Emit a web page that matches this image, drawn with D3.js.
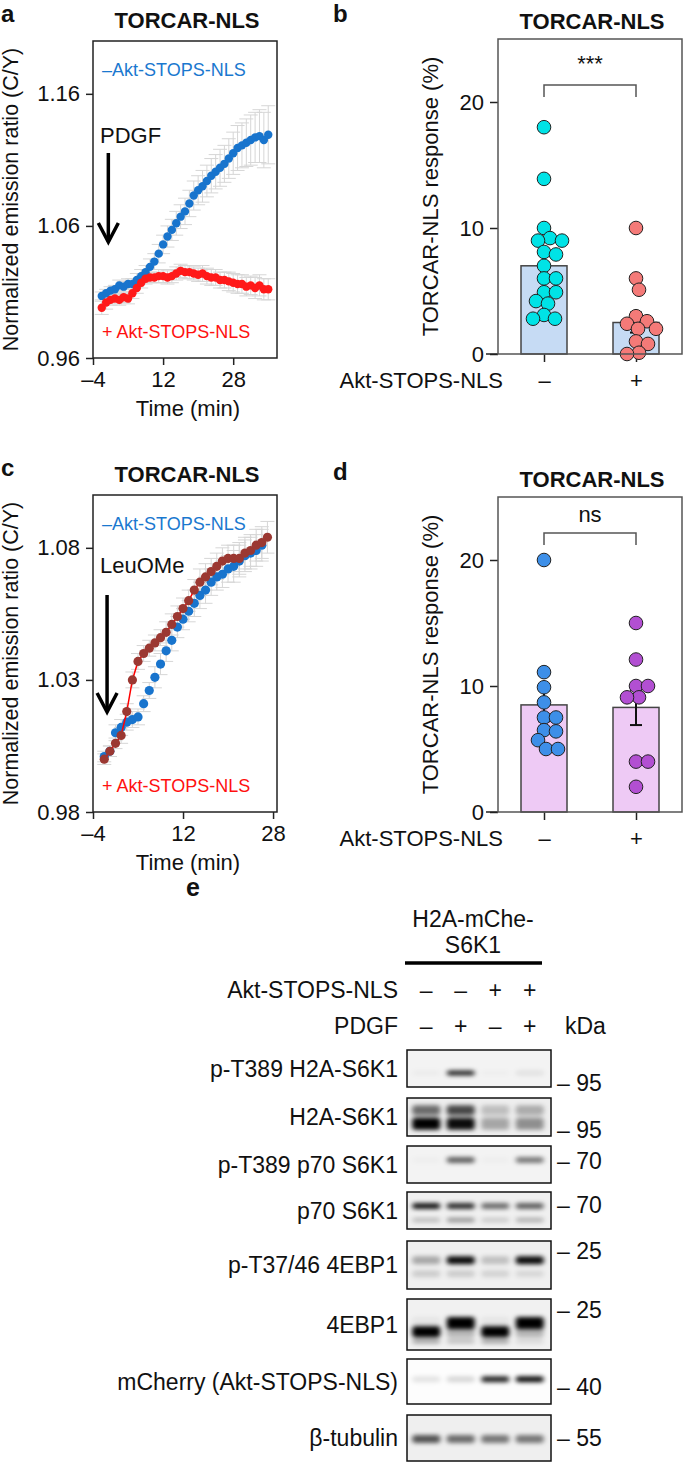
<!DOCTYPE html>
<html>
<head>
<meta charset="utf-8">
<script src="https://cdn.jsdelivr.net/npm/d3@7"></script>
<style>
  body { margin: 0; background: #fff; }
  text { font-family: "Liberation Sans", Arial, Helvetica, sans-serif; fill: #111; }
</style>
</head>
<body>
<div id="fig"></div>
<script>
// ---------------- data ----------------
// panel a: PDGF time course (min, normalized C/Y ratio, SEM)
const timeA = [-2,-1,0,1,2,3,4,5,6,7,8,9,10,11,12,13,14,15,16,17,18,19,20,21,22,23,24,25,26,27,28,29,30,31,32,33,34,35,36];
const blueA = [1.007,1.009,1.011,1.012,1.015,1.014,1.016,1.016,1.019,1.022,1.025,1.029,1.033,1.039,1.046,1.052,1.057,1.062,1.067,1.071,1.077,1.083,1.087,1.090,1.094,1.098,1.101,1.104,1.107,1.111,1.115,1.119,1.121,1.123,1.125,1.127,1.128,1.125,1.129];
const blueAErr = [0.003,0.003,0.003,0.003,0.004,0.004,0.004,0.004,0.005,0.005,
                  0.005,0.006,0.006,0.007,0.007,0.008,0.008,0.009,0.009,0.010,
                  0.010,0.011,0.011,0.012,0.012,0.013,0.013,0.014,0.014,0.015,
                  0.016,0.017,0.017,0.018,0.019,0.019,0.020,0.021,0.022];
const redA = [0.998,1.002,1.004,1.005,1.004,1.006,1.005,1.009,1.013,1.017,1.020,1.021,1.021,1.022,1.022,1.021,1.022,1.024,1.026,1.025,1.025,1.024,1.023,1.024,1.022,1.021,1.021,1.019,1.019,1.018,1.017,1.016,1.016,1.014,1.015,1.013,1.015,1.012,1.012];
const redAErr = [0.005,0.005,0.004,0.004,0.004,0.004,0.004,0.004,0.004,0.004,
                 0.004,0.004,0.004,0.005,0.005,0.005,0.005,0.005,0.005,0.005,
                 0.005,0.005,0.005,0.006,0.006,0.006,0.006,0.006,0.006,0.007,
                 0.007,0.007,0.007,0.007,0.007,0.008,0.008,0.008,0.008];

// panel c: LeuOMe time course
const timeC = [-2,-1,0,1,2,3,4,5,6,7,8,9,10,11,12,13,14,15,16,17,18,19,20,21,22,23,24,25,26,27];
const blueC = [1.001,1.003,1.010,1.012,1.014,1.015,1.016,1.021,1.026,1.031,1.036,1.041,1.045,1.050,1.053,1.056,1.059,1.062,1.064,1.067,1.069,1.070,1.072,1.073,1.075,1.077,1.078,1.079,1.081];
const blueCErr = [0.002,0.002,0.003,0.003,0.003,0.003,0.003,0.003,0.003,0.004,
                  0.004,0.004,0.004,0.004,0.004,0.004,0.005,0.005,0.005,0.005,
                  0.005,0.005,0.005,0.006,0.006,0.006,0.006,0.006,0.006];
const brownC = [1.000,1.003,1.006,1.009,1.018,1.030,1.037,1.040,1.042,1.044,1.046,1.048,1.051,1.054,1.057,1.060,1.064,1.067,1.069,1.071,1.073,1.075,1.076,1.076,1.076,1.078,1.079,1.081,1.082,1.084];
const brownCErr = [0.002,0.002,0.002,0.003,0.003,0.003,0.003,0.003,0.003,0.003,
                   0.003,0.004,0.004,0.004,0.004,0.004,0.004,0.005,0.005,0.005,
                   0.005,0.005,0.005,0.005,0.006,0.006,0.006,0.006,0.006,0.006];

// panels b, d: response (%) per cell
const groups = ['–', '+'];
const barsB = [7.0, 2.5];
const barsBErr = [0.9, 0.8];
const cellsBminus = [18.0, 13.9, 10.0, 9.2, 9.0, 9.0, 8.1, 7.9, 7.0, 6.0, 6.0, 4.9, 4.9, 4.2, 4.0, 3.1, 2.8, 2.8];
const cellsBplus = [10.0, 6.0, 5.1, 3.0, 2.6, 2.4, 2.0, 2.0, 1.0, 0.8, 0.1, 0.0];
const barsD = [8.5, 8.3];
const barsDErr = [1.3, 1.4];
const cellsDminus = [20.0, 11.1, 9.9, 8.7, 7.5, 7.5, 6.5, 6.4, 5.7, 5.0, 5.0];
const cellsDplus = [15.0, 12.1, 10.0, 10.0, 9.1, 9.1, 4.0, 4.0, 2.0];

// panel e: western blot
const laneAkt = ['–', '–', '+', '+'];
const lanePdgf = ['–', '+', '–', '+'];
const blotLabels = ['p-T389 H2A-S6K1', 'H2A-S6K1', 'p-T389 p70 S6K1', 'p70 S6K1',
                    'p-T37/46 4EBP1', '4EBP1', 'mCherry (Akt-STOPS-NLS)', 'β-tubulin'];
const blotMarkers = ['95', '95', '70', '70', '25', '25', '40', '55'];
// band intensity per lane (0 none .. 1 saturated), pos = relative migration in strip
const blotBands = [
  [{pos: 0.62, v: [0.03, 0.85, 0.02, 0.08]}],
  [{pos: 0.32, v: [0.55, 0.7, 0.2, 0.28]}, {pos: 0.68, v: [1, 0.95, 0.3, 0.4]}],
  [{pos: 0.38, v: [0.02, 0.6, 0.02, 0.5]}],
  [{pos: 0.38, v: [0.9, 0.8, 0.55, 0.6]}, {pos: 0.76, v: [0.2, 0.35, 0.15, 0.25]}],
  [{pos: 0.4, v: [0.3, 0.95, 0.2, 0.95]}, {pos: 0.68, v: [0.15, 0.15, 0.12, 0.1]}],
  [{pos: 0.47, v: [0.05, 1, 0.05, 1]}, {pos: 0.64, v: [1, 0.25, 1, 0.25]}, {pos: 0.83, v: [0.3, 0.2, 0.3, 0.1]}],
  [{pos: 0.45, v: [0.1, 0.15, 0.85, 0.95]}],
  [{pos: 0.52, v: [0.65, 0.55, 0.5, 0.5]}]
];

// ---------------- drawing ----------------
const svg = d3.select('#fig').append('svg')
  .attr('width', 685)
  .attr('height', 1462);

const dash = d => d < 0 ? '–' + Math.abs(d) : String(d);

function styleAxis(g) {
  g.attr('font-family', null).attr('font-size', null);
  g.selectAll('text').style('font-size', '22px').attr('fill', '#111');
  g.selectAll('line').attr('stroke', '#222').attr('stroke-width', 1.5);
  g.select('.domain').remove();
}

function timePanel(o) {
  const x = d3.scaleLinear().domain(o.xDomain).range([93, 277]);
  const y = d3.scaleLinear().domain(o.yDomain).range([o.bottom, o.top]);

  svg.append('text').attr('x', 1).attr('y', o.top - 19)
    .style('font-size', '24px').style('font-weight', 'bold').text(o.letter);
  svg.append('text').attr('x', 187).attr('y', o.top - 13).attr('text-anchor', 'middle')
    .style('font-size', '22px').style('font-weight', 'bold').text('TORCAR-NLS');

  svg.append('g').attr('transform', 'translate(93,0)')
    .call(d3.axisLeft(y).tickValues(o.yTicks).tickFormat(d3.format('.2f')).tickSize(7).tickPadding(6).tickSizeOuter(0))
    .call(styleAxis);
  svg.append('g').attr('transform', 'translate(0,' + o.bottom + ')')
    .call(d3.axisBottom(x).tickValues(o.xTicks).tickFormat(dash).tickSize(7).tickPadding(6).tickSizeOuter(0))
    .call(styleAxis);

  svg.append('text')
    .attr('transform', 'translate(18,' + (o.top + o.bottom) / 2 + ') rotate(-90)')
    .attr('text-anchor', 'middle').style('font-size', '21.5px')
    .text('Normalized emission ratio (C/Y)');
  svg.append('text').attr('x', 188).attr('y', o.bottom + 58).attr('text-anchor', 'middle')
    .style('font-size', '22px').text('Time (min)');

  // error bars first
  o.series.forEach(s => {
    const g = svg.append('g').attr('stroke', '#d6d6d6').attr('stroke-width', 1);
    s.values.forEach((v, i) => {
      const cx = x(s.time[i]), e = s.err[i];
      g.append('line').attr('x1', cx).attr('x2', cx).attr('y1', y(v - e)).attr('y2', y(v + e));
      g.append('line').attr('x1', cx - 7).attr('x2', cx + 7).attr('y1', y(v - e)).attr('y2', y(v - e));
      g.append('line').attr('x1', cx - 7).attr('x2', cx + 7).attr('y1', y(v + e)).attr('y2', y(v + e));
    });
  });
  o.series.forEach(s => {
    const pts = s.values.map((v, i) => [x(s.time[i]), y(v)]);
    if (s.line) {
      svg.append('path').attr('d', d3.line()(pts)).attr('fill', 'none')
        .attr('stroke', s.line).attr('stroke-width', 1.5);
    }
    svg.append('g').selectAll('circle').data(pts).enter().append('circle')
      .attr('cx', d => d[0]).attr('cy', d => d[1]).attr('r', o.r).attr('fill', s.color);
  });

  svg.append('rect').attr('x', 93).attr('y', o.top).attr('width', 184).attr('height', o.bottom - o.top)
    .attr('fill', 'none').attr('stroke', '#222').attr('stroke-width', 1.5);

  svg.append('text').attr('x', 102).attr('y', o.top + 35).style('font-size', '18px')
    .style('fill', '#1a78cf').text('–Akt-STOPS-NLS');
  svg.append('text').attr('x', 102).attr('y', o.bottom - 20).style('font-size', '18px')
    .style('fill', '#ff1010').text('+ Akt-STOPS-NLS');
  svg.append('text').attr('x', 100).attr('y', o.labelY).style('font-size', '22px').text(o.stim);

  // stimulus arrow
  const ax = x(o.arrowT);
  const ga = svg.append('g').attr('stroke', '#000').attr('stroke-width', 3.5).attr('fill', 'none');
  ga.append('line').attr('x1', ax).attr('x2', ax).attr('y1', o.arrow[0]).attr('y2', o.arrow[1]);
  ga.append('path').attr('d', d3.line()([[ax - 10, o.arrow[1] - 19], [ax, o.arrow[1]], [ax + 10, o.arrow[1] - 19]]));
}

timePanel({
  letter: 'a', top: 41, bottom: 358, xDomain: [-4, 38], yDomain: [0.96, 1.2],
  yTicks: [0.96, 1.06, 1.16], xTicks: [-4, 12, 28], r: 4.2,
  stim: 'PDGF', labelY: 143, arrowT: -0.5, arrow: [153, 242],
  series: [
    {time: timeA, values: blueA, err: blueAErr, color: '#1874cd'},
    {time: timeA, values: redA, err: redAErr, color: '#ff1a1a'}
  ]
});

timePanel({
  letter: 'c', top: 495, bottom: 812, xDomain: [-4, 28.7], yDomain: [0.98, 1.1],
  yTicks: [0.98, 1.03, 1.08], xTicks: [-4, 12, 28], r: 4.6,
  stim: 'LeuOMe', labelY: 573, arrowT: -1.5, arrow: [595, 712],
  series: [
    {time: timeC, values: blueC, err: blueCErr, color: '#1874cd'},
    {time: timeC, values: brownC, err: brownCErr, color: '#9b3832', line: '#ff0000'}
  ]
});

// simple beeswarm: nudge each dot sideways until it clears those already placed
function swarm(vals, y, r) {
  const placed = [];
  const minD = 2 * r * 0.85;
  return vals.map(v => {
    const cy = y(v);
    let dx = 0;
    for (let k = 0; k < 60; k++) {
      const cand = (k % 2 ? 1 : -1) * Math.ceil(k / 2);
      if (placed.every(p => Math.hypot(p[0] - cand, p[1] - cy) >= minD)) { dx = cand; break; }
    }
    placed.push([dx, cy]);
    return [dx, cy];
  });
}

function barPanel(o) {
  const x = d3.scalePoint().domain(groups).range([498, 682]).padding(0.5);
  const y = d3.scaleLinear().domain([0, 25]).range([o.bottom, o.top]);
  const bw = 46, r = 6.8;

  svg.append('text').attr('x', 333).attr('y', o.top - 17)
    .style('font-size', '24px').style('font-weight', 'bold').text(o.letter);
  svg.append('text').attr('x', 592).attr('y', o.top - 10).attr('text-anchor', 'middle')
    .style('font-size', '22px').style('font-weight', 'bold').text('TORCAR-NLS');

  svg.append('g').attr('transform', 'translate(498,0)')
    .call(d3.axisLeft(y).tickValues([0, 10, 20]).tickSize(8).tickPadding(6).tickSizeOuter(0))
    .call(styleAxis);
  svg.append('g').attr('transform', 'translate(0,' + o.bottom + ')')
    .call(d3.axisBottom(x).tickSize(8).tickPadding(10).tickSizeOuter(0))
    .call(styleAxis);
  svg.append('line').attr('x1', 486).attr('x2', 498).attr('y1', o.bottom).attr('y2', o.bottom)
    .attr('stroke', '#222').attr('stroke-width', 1.5);

  svg.append('text').attr('x', 503).attr('y', o.bottom + 34).attr('text-anchor', 'end')
    .style('font-size', '22px').text('Akt-STOPS-NLS');
  svg.append('text')
    .attr('transform', 'translate(438,' + (o.top + o.bottom) / 2 + ') rotate(-90)')
    .attr('text-anchor', 'middle').style('font-size', '22px')
    .text('TORCAR-NLS response (%)');

  svg.append('g').selectAll('rect').data(o.bars).enter().append('rect')
    .attr('x', (d, i) => x(groups[i]) - bw / 2).attr('width', bw)
    .attr('y', d => y(d)).attr('height', d => y(0) - y(d))
    .attr('fill', o.barFill).attr('stroke', '#444').attr('stroke-width', 1.5);

  const ge = svg.append('g').attr('stroke', '#111').attr('stroke-width', 2);
  o.bars.forEach((d, i) => {
    const cx = x(groups[i]), e = o.err[i];
    ge.append('line').attr('x1', cx).attr('x2', cx).attr('y1', y(d - e)).attr('y2', y(d + e));
    ge.append('line').attr('x1', cx - 6).attr('x2', cx + 6).attr('y1', y(d + e)).attr('y2', y(d + e));
    ge.append('line').attr('x1', cx - 6).attr('x2', cx + 6).attr('y1', y(d - e)).attr('y2', y(d - e));
  });

  o.cells.forEach((vals, i) => {
    const pos = swarm(vals, y, r);
    svg.append('g').selectAll('circle').data(pos).enter().append('circle')
      .attr('cx', d => x(groups[i]) + d[0]).attr('cy', d => d[1]).attr('r', r)
      .attr('fill', o.colors[i]).attr('stroke', '#222').attr('stroke-width', 1);
  });

  svg.append('rect').attr('x', 498).attr('y', o.top).attr('width', 184).attr('height', o.bottom - o.top)
    .attr('fill', 'none').attr('stroke', '#555').attr('stroke-width', 1.5);

  // significance bracket
  const x1 = x(groups[0]), x2 = x(groups[1]);
  svg.append('path').attr('d', d3.line()([[x1, o.bracketY + 12], [x1, o.bracketY], [x2, o.bracketY], [x2, o.bracketY + 12]]))
    .attr('fill', 'none').attr('stroke', '#555').attr('stroke-width', 1.5);
  svg.append('text').attr('x', (x1 + x2) / 2).attr('y', o.bracketY - o.sigGap).attr('text-anchor', 'middle')
    .style('font-size', '22px').text(o.sig);
}

barPanel({
  letter: 'b', top: 39, bottom: 354, bars: barsB, err: barsBErr,
  cells: [cellsBminus, cellsBplus], colors: ['#00e3e6', '#f47a78'], barFill: '#c6dbf4',
  bracketY: 85, sig: '***', sigGap: 14
});
barPanel({
  letter: 'd', top: 497, bottom: 812, bars: barsD, err: barsDErr,
  cells: [cellsDminus, cellsDplus], colors: ['#3d8fe8', '#b24fd2'], barFill: '#eecaf5',
  bracketY: 533, sig: 'ns', sigGap: 11
});

// ---------------- panel e: blot ----------------
const lane = d3.scalePoint().domain([0, 1, 2, 3]).range([409, 547]).padding(0.5);
const stripTop = [1050, 1098, 1146, 1192, 1241, 1299, 1359, 1415];
const stripH = [37, 38, 37, 37, 48, 51, 45, 46];
const stripBg = ['#f3f3f3', '#eeeeee', '#f3f3f3', '#f0f0f0', '#f0f0f0', '#f1f1f1', '#fdfdfd', '#efefef'];
const markerFrac = [0.9, 0.85, 0.4, 0.35, 0.2, 0.22, 0.62, 0.5];
const bandH = [[5], [10, 12], [6], [6, 5], [8, 7], [12, 11, 5], [6], [8]];

const defs = svg.append('defs');
defs.append('filter').attr('id', 'blur').attr('x', '-50%').attr('y', '-100%').attr('width', '200%').attr('height', '300%')
  .append('feGaussianBlur').attr('stdDeviation', '2.6 2');

svg.append('text').attr('x', 186).attr('y', 896).style('font-size', '25px').style('font-weight', 'bold').text('e');
svg.append('text').attr('x', 473).attr('y', 927).attr('text-anchor', 'middle').style('font-size', '23px').text('H2A-mChe-');
svg.append('text').attr('x', 473).attr('y', 953).attr('text-anchor', 'middle').style('font-size', '23px').text('S6K1');
svg.append('line').attr('x1', 405).attr('x2', 542).attr('y1', 963).attr('y2', 963).attr('stroke', '#000').attr('stroke-width', 3.5);

svg.append('text').attr('x', 398).attr('y', 998).attr('text-anchor', 'end').style('font-size', '23px').text('Akt-STOPS-NLS');
svg.append('text').attr('x', 398).attr('y', 1034).attr('text-anchor', 'end').style('font-size', '23px').text('PDGF');
svg.append('text').attr('x', 565).attr('y', 1034).style('font-size', '23px').text('kDa');
[laneAkt, lanePdgf].forEach((signs, r) => {
  svg.append('g').selectAll('text').data(signs).enter().append('text')
    .attr('x', (d, i) => lane(i)).attr('y', r ? 1034 : 998).attr('text-anchor', 'middle')
    .style('font-size', '23px').text(d => d);
});

blotLabels.forEach((lab, r) => {
  const t = stripTop[r], h = stripH[r];
  const cid = 'strip' + r;
  defs.append('clipPath').attr('id', cid).append('rect').attr('x', 407).attr('y', t).attr('width', 144).attr('height', h);
  svg.append('rect').attr('x', 407).attr('y', t).attr('width', 144).attr('height', h).attr('fill', stripBg[r]);
  const g = svg.append('g').attr('clip-path', 'url(#' + cid + ')').append('g').attr('filter', 'url(#blur)');
  blotBands[r].forEach((b, k) => {
    const bh = bandH[r][k];
    g.selectAll(null).data(b.v).enter().append('rect')
      .attr('x', (d, i) => lane(i) - 14).attr('width', 28)
      .attr('y', t + b.pos * h - bh / 2).attr('height', bh).attr('rx', 3)
      .attr('fill', '#000').attr('fill-opacity', d => d);
  });
  svg.append('rect').attr('x', 407).attr('y', t).attr('width', 144).attr('height', h)
    .attr('fill', 'none').attr('stroke', '#111').attr('stroke-width', 1.5);
  svg.append('text').attr('x', 398).attr('y', t + h / 2).attr('dy', '0.35em').attr('text-anchor', 'end')
    .style('font-size', '23px').text(lab);
  svg.append('text').attr('x', 557).attr('y', t + markerFrac[r] * h).attr('dy', '0.35em')
    .style('font-size', '23px').text('– ' + blotMarkers[r]);
});
</script>
</body>
</html>
